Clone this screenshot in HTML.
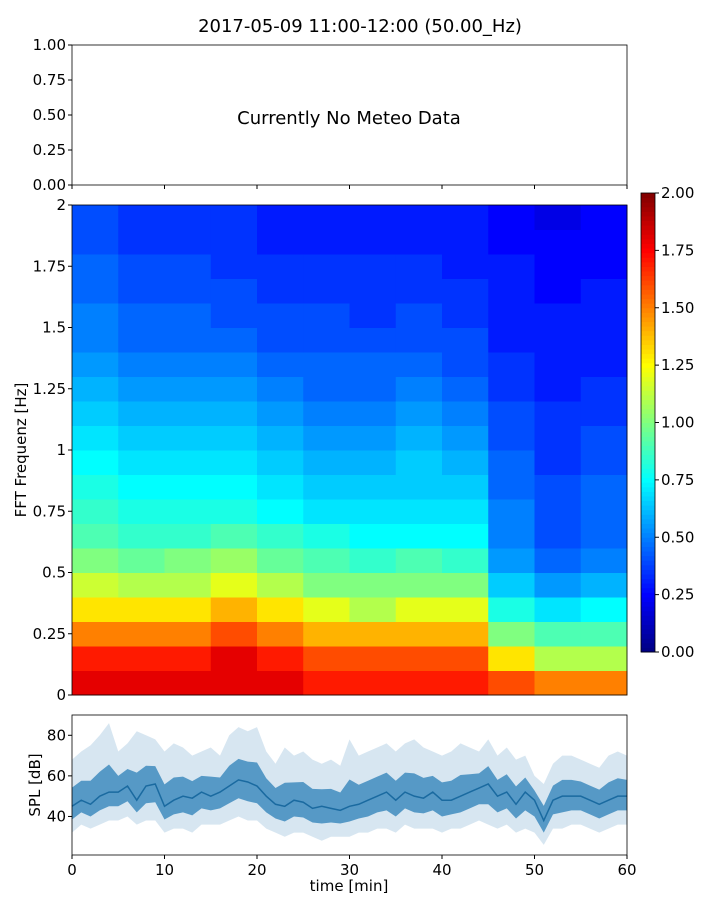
<!DOCTYPE html>
<html><head><meta charset="utf-8"><style>
body{margin:0;background:#fff;}
svg{display:block;font-family:"DejaVu Sans","Liberation Sans",sans-serif;}
</style></head><body>
<svg id="fig" width="720" height="900" viewBox="0 0 720 900">
<text x="360" y="32" font-size="18" text-anchor="middle">2017-05-09 11:00-12:00 (50.00_Hz)</text>
<g id="top">
<rect x="72" y="45" width="555" height="140" fill="none" stroke="#000" stroke-width="0.8"/>
<text x="349" y="124" font-size="18" text-anchor="middle">Currently No Meteo Data</text>
</g>
<g id="spec"></g>
<text transform="translate(26,450) rotate(-90)" font-size="15" text-anchor="middle">FFT Frequenz [Hz]</text>
<g id="cbar"></g>
<g id="spl"></g>
<text transform="translate(40,785) rotate(-90)" font-size="15" text-anchor="middle">SPL [dB]</text>
<text x="349" y="891" font-size="15" text-anchor="middle">time [min]</text>
</svg>
<script>
const NS="http://www.w3.org/2000/svg";
const timeTicks=[0,10,20,30,40,50,60];
const freqTicks=[0,0.25,0.5,0.75,1,1.25,1.5,1.75,2];
const freqTickLabels=["0","0.25","0.5","0.75","1","1.25","1.5","1.75","2"];
const meteoTicks=[0,0.25,0.5,0.75,1];
const cbarTicks=[0,0.25,0.5,0.75,1,1.25,1.5,1.75,2];
const splTicks=[40,60,80];
const specTimeEdges=[0,5,10,15,20,25,30,35,40,45,50,55,60];
const specFreqEdges=[0,0.1,0.2,0.3,0.4,0.5,0.6,0.7,0.8,0.9,1.0,1.1,1.2,1.3,1.4,1.5,1.6,1.7,1.8,1.9,2.0];
const specValues=[
[1.8,1.8,1.8,1.8,1.8,1.7,1.7,1.7,1.7,1.6,1.5,1.5],
[1.7,1.7,1.7,1.8,1.7,1.6,1.6,1.6,1.6,1.3,1.1,1.1],
[1.5,1.5,1.5,1.6,1.5,1.4,1.4,1.4,1.4,1.0,0.9,0.9],
[1.3,1.3,1.3,1.4,1.3,1.2,1.1,1.2,1.2,0.8,0.7,0.75],
[1.15,1.1,1.1,1.2,1.1,1.0,1.0,1.0,1.0,0.65,0.55,0.6],
[1.0,0.95,1.0,1.05,0.95,0.9,0.85,0.9,0.85,0.55,0.45,0.5],
[0.9,0.85,0.85,0.9,0.85,0.8,0.75,0.75,0.75,0.5,0.4,0.45],
[0.85,0.8,0.8,0.8,0.75,0.7,0.7,0.7,0.7,0.5,0.4,0.45],
[0.8,0.75,0.75,0.75,0.7,0.65,0.65,0.65,0.65,0.45,0.4,0.45],
[0.75,0.7,0.7,0.7,0.65,0.6,0.6,0.65,0.6,0.45,0.35,0.4],
[0.7,0.65,0.65,0.65,0.6,0.55,0.55,0.6,0.55,0.4,0.35,0.4],
[0.65,0.6,0.6,0.6,0.55,0.5,0.5,0.55,0.5,0.4,0.35,0.35],
[0.6,0.55,0.55,0.55,0.5,0.45,0.45,0.5,0.45,0.35,0.3,0.35],
[0.55,0.5,0.5,0.5,0.45,0.45,0.45,0.45,0.4,0.35,0.3,0.3],
[0.5,0.45,0.45,0.45,0.4,0.4,0.4,0.4,0.4,0.3,0.3,0.3],
[0.5,0.45,0.45,0.4,0.4,0.4,0.35,0.4,0.35,0.3,0.3,0.3],
[0.45,0.4,0.4,0.4,0.35,0.35,0.35,0.35,0.35,0.3,0.25,0.3],
[0.45,0.4,0.4,0.35,0.35,0.35,0.35,0.35,0.3,0.3,0.25,0.25],
[0.4,0.35,0.35,0.35,0.3,0.3,0.3,0.3,0.3,0.25,0.25,0.25],
[0.4,0.35,0.35,0.35,0.3,0.3,0.3,0.3,0.3,0.25,0.2,0.25]];
const splMinutes=[0,1,2,3,4,5,6,7,8,9,10,11,12,13,14,15,16,17,18,19,20,21,22,23,24,25,26,27,28,29,30,31,32,33,34,35,36,37,38,39,40,41,42,43,44,45,46,47,48,49,50,51,52,53,54,55,56,57,58,59,60];
const splMean=[45,48,46,50,52,52,55,48,55,56,45,48,50,49,52,50,52,55,58,57,55,50,46,45,48,47,44,45,44,43,45,46,48,50,52,48,52,50,49,52,48,48,50,52,54,56,50,52,46,52,48,38,48,50,50,50,48,46,48,50,50];
const splHigh=[68,72,75,80,86,72,76,82,80,78,72,76,74,70,72,74,70,80,84,82,84,72,66,74,70,72,68,66,68,65,78,70,72,74,76,72,76,78,74,72,70,72,76,74,72,78,70,74,68,70,60,56,66,70,70,68,66,64,70,72,70];
const splLow=[32,36,34,36,38,38,40,36,38,38,32,34,34,32,36,36,36,38,40,38,38,34,32,30,32,32,30,28,30,30,30,32,32,34,34,32,36,34,34,34,32,34,34,36,38,36,34,36,32,34,32,26,34,34,36,36,34,32,34,36,36];

const fig=document.getElementById('fig');
function el(tag,attrs,parent){const e=document.createElementNS(NS,tag);for(const k in attrs)e.setAttribute(k,attrs[k]);(parent||fig).appendChild(e);return e;}
const X0=72,X1=627;
const xT=t=>X0+(t/60)*(X1-X0);
const yF=f=>695-(f/2)*490;
const yM=v=>185-v*140;
const yS=d=>855-(d-21)/(90-21)*140;
const yC=v=>652-(v/2)*459;
function jet(v){let t=Math.max(0,Math.min(1,v/2));
 const c=x=>Math.round(255*Math.max(0,Math.min(1,1.5-Math.abs(4*t-x))));
 return `rgb(${c(3)},${c(2)},${c(1)})`;}

const topG=document.getElementById('top');
meteoTicks.forEach(v=>{
 const l=el('line',{x1:68,x2:72,y1:yM(v),y2:yM(v),stroke:'#000'},topG);
 
 const t=el('text',{x:66,y:yM(v)+5,'font-size':15,'text-anchor':'end'},topG);t.textContent=v.toFixed(2);
 
});
timeTicks.forEach(v=>{
 const l=el('line',{x1:xT(v),x2:xT(v),y1:185,y2:189,stroke:'#000'},topG);
 
});

const sp=document.getElementById('spec');
specValues.forEach((row,i)=>row.forEach((v,j)=>{
 const x=xT(specTimeEdges[j]),w=xT(specTimeEdges[j+1])-x;
 const y=yF(specFreqEdges[i+1]),h=yF(specFreqEdges[i])-y;
 const r=el('rect',{x:x,y:y,width:w+0.5,height:h+0.5,fill:jet(v)},sp);
 
}));
const sf=el('rect',{x:X0,y:205,width:X1-X0,height:490,fill:'none',stroke:'#000','stroke-width':0.8},sp);

freqTicks.forEach((v,i)=>{
 const l=el('line',{x1:68,x2:72,y1:yF(v),y2:yF(v),stroke:'#000'},sp);
 
 const t=el('text',{x:66,y:yF(v)+5,'font-size':15,'text-anchor':'end'},sp);t.textContent=freqTickLabels[i];
 
});

const cb=document.getElementById('cbar');
for(let k=0;k<100;k++){const v0=k*0.02,v1=v0+0.02;
 const r=el('rect',{x:641,y:yC(v1),width:14,height:yC(v0)-yC(v1)+0.5,fill:jet(v0+0.01)},cb);
 }
const cf=el('rect',{x:641,y:193,width:14,height:459,fill:'none',stroke:'#000','stroke-width':0.8},cb);

cbarTicks.forEach(v=>{
 const l=el('line',{x1:655,x2:659,y1:yC(v),y2:yC(v),stroke:'#000'},cb);
 
 const t=el('text',{x:661,y:yC(v)+5,'font-size':15},cb);t.textContent=v.toFixed(2);
 
});

const spl=document.getElementById('spl');
const band=splMinutes.map((m,i)=>`${xT(m)},${yS(splHigh[i])}`).concat(splMinutes.slice().reverse().map((m,k)=>{const i=splMinutes.length-1-k;return `${xT(m)},${yS(splLow[i])}`;})).join(' ');
const b=el('polygon',{points:band,fill:'#1f77b4','fill-opacity':0.18},spl);

const inner=splMinutes.map((m,i)=>`${xT(m)},${yS(splMean[i]+(splHigh[i]-splMean[i])*0.4)}`).concat(splMinutes.slice().reverse().map((m,k)=>{const i=splMinutes.length-1-k;return `${xT(m)},${yS(splMean[i]-(splMean[i]-splLow[i])*0.5)}`;})).join(' ');
const ib=el('polygon',{points:inner,fill:'#1f77b4','fill-opacity':0.7},spl);

const ln=el('polyline',{points:splMinutes.map((m,i)=>`${xT(m)},${yS(splMean[i])}`).join(' '),fill:'none',stroke:'#1a6aa0','stroke-width':1.5},spl);

const pf=el('rect',{x:X0,y:715,width:X1-X0,height:140,fill:'none',stroke:'#000','stroke-width':0.8},spl);

splTicks.forEach(v=>{
 const l=el('line',{x1:68,x2:72,y1:yS(v),y2:yS(v),stroke:'#000'},spl);
 
 const t=el('text',{x:66,y:yS(v)+5,'font-size':15,'text-anchor':'end'},spl);t.textContent=v;
 
});
timeTicks.forEach(v=>{
 const l=el('line',{x1:xT(v),x2:xT(v),y1:855,y2:859,stroke:'#000'},spl);
 
 const t=el('text',{x:xT(v),y:875,'font-size':15,'text-anchor':'middle'},spl);t.textContent=v;
 
});
</script>
</body></html>
